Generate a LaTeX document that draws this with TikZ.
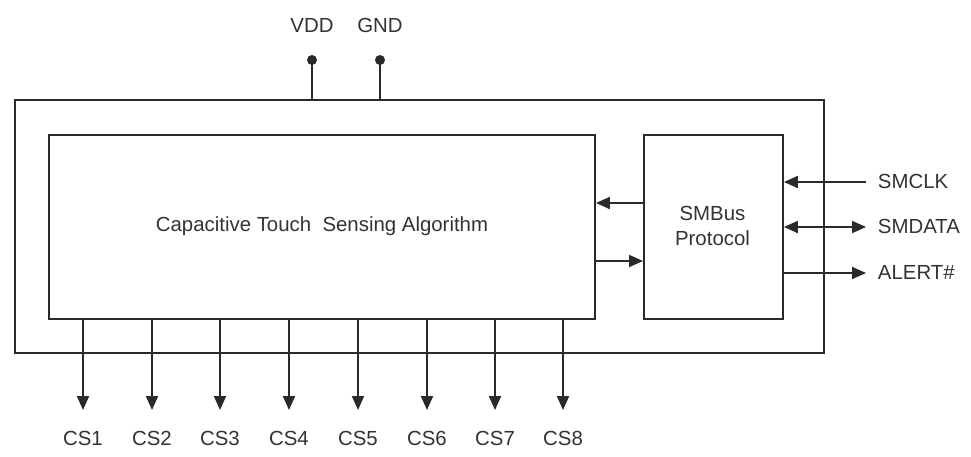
\documentclass[tikz,border=0pt]{standalone}
\usepackage{fontspec}
\setmainfont{Liberation Sans}
\usetikzlibrary{arrows.meta}
\definecolor{ink}{HTML}{2A2A2A}
\definecolor{txt}{HTML}{333333}
\begin{document}
\begin{tikzpicture}[x=1pt,y=-1pt,
  line width=1.9pt,
  box/.style={draw=ink, line width=1.9pt, rectangle, inner sep=0pt, anchor=north west},
  lbl/.style={text=txt, font=\fontsize{20.4}{25}\selectfont, inner sep=0pt},
  tip/.style={-{Triangle[length=14pt,width=12pt]}},
  dtip/.style={{Triangle[length=14pt,width=12pt]}-{Triangle[length=14pt,width=12pt]}},
  pin/.style={circle, fill=ink, inner sep=0pt, minimum size=10pt}]
\useasboundingbox (0,0) rectangle (971,456);
\draw[fill=white, draw=none] (0,0) rectangle (971,456);
% boxes
\node[box, minimum width=809pt, minimum height=253pt] (outer) at (14,99) {};
\node[box, minimum width=546pt, minimum height=184pt] (alg) at (48,134) {};
\node[box, minimum width=139pt, minimum height=184pt] (smb) at (643,134) {};
\node[lbl] (algtxt) at (322,226) {Capacitive Touch\ \ Sensing Algorithm};
\node[lbl, align=center, font=\fontsize{20.4}{25}\selectfont] (smbtxt) at (712.5,226) {SMBus\\Protocol};
% power pins
\node[pin] (vdd) at (312,60) {};
\node[pin] (gnd) at (380,60) {};
\draw[ink] (vdd.center) -- (vdd.center |- outer.north);
\draw[ink] (gnd.center) -- (gnd.center |- outer.north);
\node[lbl] (vddl) at (312,25) {VDD};
\node[lbl] (gndl) at (380,25) {GND};
% internal arrows
\draw[ink, tip] (smb.west |- 0,203) -- (alg.east |- 0,203);
\draw[ink, tip] (alg.east |- 0,261) -- (smb.west |- 0,261);
% bus pins
\node[lbl, anchor=west] (smclk) at (877,181) {SMCLK};
\node[lbl, anchor=west] (smdata) at (877,226) {SMDATA};
\node[lbl, anchor=west] (alert) at (877,272) {ALERT\#};
\coordinate (e1) at (866,182);
\coordinate (e2) at (866,227);
\coordinate (e3) at (866,273);
\draw[ink, tip] (e1) -- (smb.east |- e1);
\draw[ink, dtip] (smb.east |- e2) -- (e2);
\draw[ink, tip] (smb.east |- e3) -- (e3);
% CS pins
\foreach \i/\x in {1/83,2/152,3/220,4/289,5/358,6/427,7/495,8/563}{
  \coordinate (cs\i top) at (\x,318);
  \coordinate (cs\i end) at (\x,410);
  \draw[ink, tip] (cs\i top) -- (cs\i end);
  \node[lbl] (cs\i) at (\x,438) {CS\i};
}
\end{tikzpicture}
\end{document}
